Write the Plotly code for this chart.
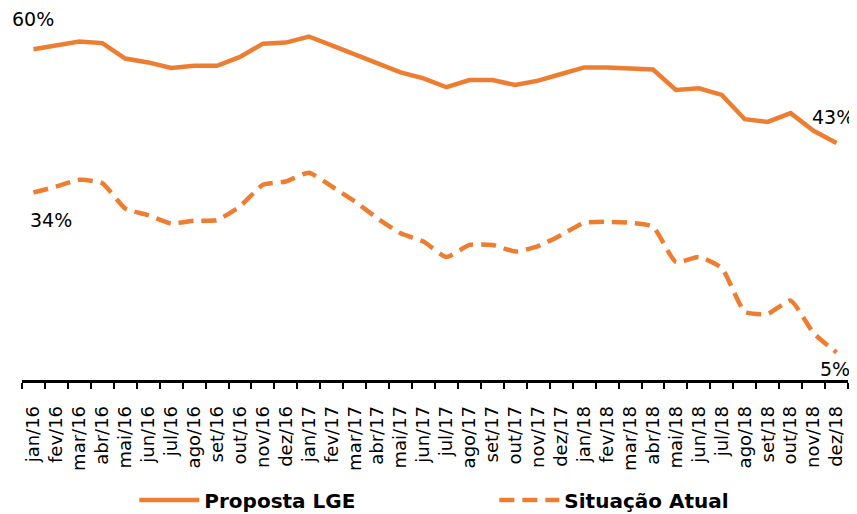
import plotly.graph_objects as go

months = ["jan", "fev", "mar", "abr", "mai", "jun", "jul", "ago", "set", "out", "nov", "dez"]
categories = [f"{m}/{y}" for y in ("16", "17", "18") for m in months]

proposta_lge = [60, 60.8, 61.4, 61.1, 58.3, 57.6, 56.6, 57.0, 57.0, 58.6, 61.0, 61.2,
                62.3, 60.7, 59.0, 57.3, 55.8, 54.7, 53.1, 54.4, 54.4, 53.5, 54.3, 55.5,
                56.7, 56.7, 56.5, 56.3, 52.6, 52.9, 51.7, 47.3, 46.8, 48.4, 45.2, 43]
situacao_atual = [34, 35.1, 36.3, 35.7, 31.1, 29.9, 28.4, 28.9, 29.0, 31.5, 35.4, 36.0,
                  37.6, 35.1, 32.4, 29.3, 26.6, 25.1, 22.3, 24.5, 24.5, 23.3, 24.3, 26.3,
                  28.5, 28.7, 28.5, 27.8, 21.4, 22.3, 20.3, 12.4, 12.0, 14.4, 8.5, 5]

label_font = "DejaVu Sans"
orange = "#ED7D31"

fig = go.Figure()
fig.add_trace(go.Scatter(x=categories, y=proposta_lge, mode="lines", name="Proposta LGE",
                         line=dict(color=orange, width=4.5)))
fig.add_trace(go.Scatter(x=categories, y=situacao_atual, mode="lines", name="Situação Atual",
                         line=dict(color=orange, width=4.5, dash="15px,8px", shape="spline", smoothing=0.5)))

ann_font = dict(family=label_font, size=19, color="black")
fig.add_annotation(x=categories[0], y=proposta_lge[0], text="60%", showarrow=False,
                   yshift=30, font=ann_font)
fig.add_annotation(x=categories[0], y=situacao_atual[0], text="34%", showarrow=False,
                   yshift=-27, xshift=18, font=ann_font)
fig.add_annotation(x=categories[-1], y=proposta_lge[-1], text="43%", showarrow=False,
                   xanchor="right", yshift=26, xshift=19, font=ann_font)
fig.add_annotation(x=categories[-1], y=situacao_atual[-1], text="5%", showarrow=False,
                   xanchor="right", yshift=-17, xshift=15, font=ann_font)

fig.update_layout(
    width=857, height=514,
    margin=dict(l=14, r=17, t=7, b=142, autoexpand=False),
    plot_bgcolor="white", paper_bgcolor="white",
    font=dict(family=label_font, color="black"),
    showlegend=True,
    legend=dict(orientation="h", x=0.136, xanchor="left", y=-0.329, yanchor="middle",
                font=dict(family=label_font, size=20, color="black", weight="bold"),
                entrywidth=285, itemwidth=60),
)
fig.update_xaxes(type="category", range=[-0.5, 35.5], tickson="boundaries",
                 ticks="outside", ticklen=6, tickwidth=2, tickcolor="black",
                 showline=True, linecolor="black", linewidth=2.5, ticklabelstandoff=16,
                 tickangle=-90, tickfont=dict(family=label_font, size=18, color="black"),
                 showgrid=False, zeroline=False, automargin=False)
fig.update_yaxes(range=[0, 66.2], visible=False, showgrid=False, zeroline=False)

fig.write_html("out.html")
